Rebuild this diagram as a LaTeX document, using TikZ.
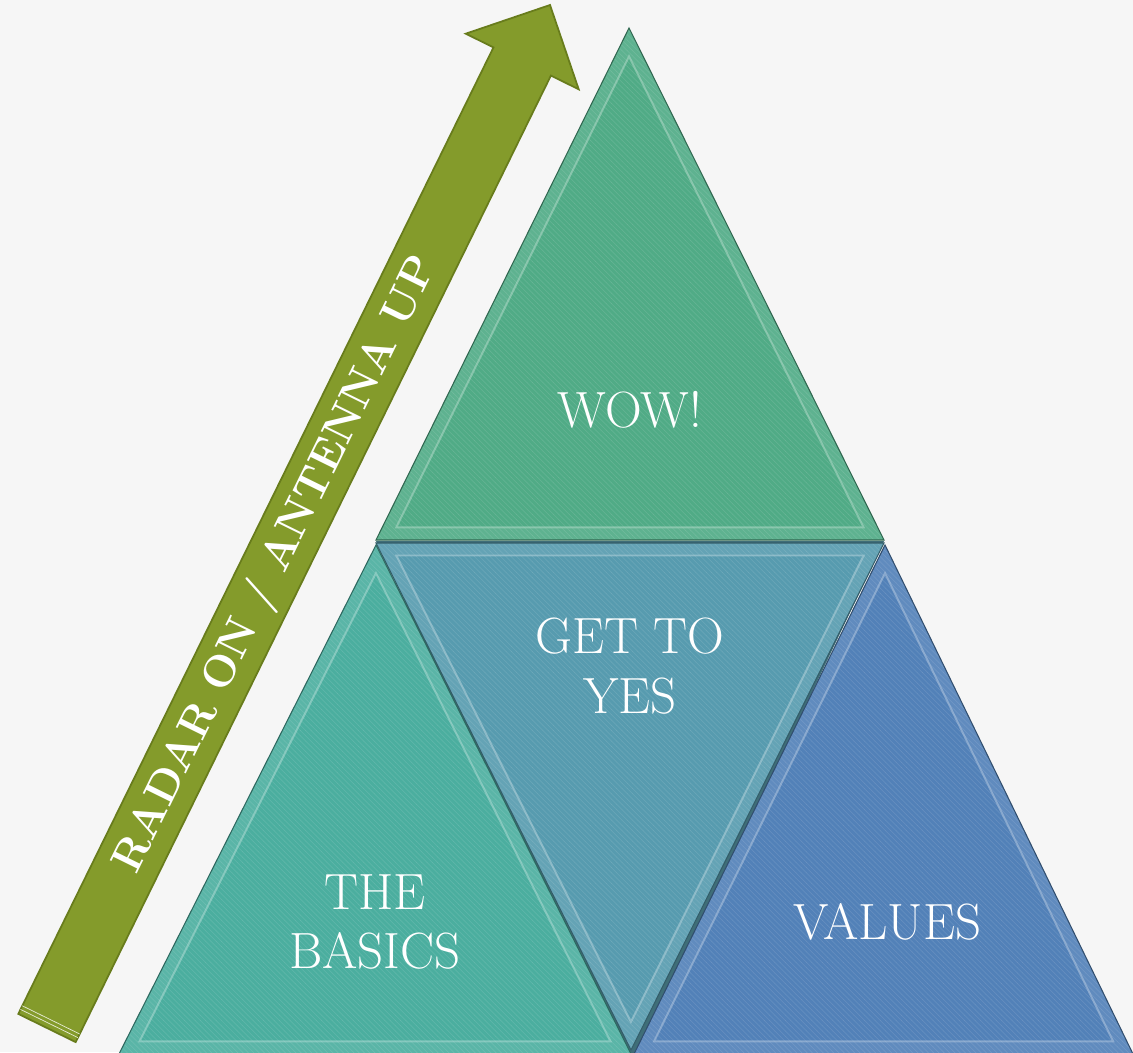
\documentclass[tikz,border=0pt]{standalone}
\usepackage{tikz}
\usetikzlibrary{calc,patterns}
\definecolor{paper}{HTML}{F6F6F6}
\definecolor{seam}{HTML}{3F6E78}
\definecolor{wowgreen}{HTML}{50AB86}
\definecolor{basicsteal}{HTML}{4BAE9F}
\definecolor{yesblue}{HTML}{579BAF}
\definecolor{valuesblue}{HTML}{5281B8}
\definecolor{arrowgreen}{HTML}{849B2B}
\definecolor{arrowedge}{HTML}{687C1C}

% one bevelled face: colour, three corners, incentre
\newcommand{\pyrface}[5]{%
  \fill[#1!92!white] #2 -- #3 -- #4 -- cycle;
  \fill[#1] ($#5!.92!#2$) -- ($#5!.92!#3$) -- ($#5!.92!#4$) -- cycle;
  \fill[pattern=north west lines, pattern color=white, opacity=.10] #2 -- #3 -- #4 -- cycle;
  \draw[#1!60!black, line width=.6pt] #2 -- #3 -- #4 -- cycle;
  \draw[#1!45!white, line width=1.1pt, opacity=.55] ($#5!.92!#2$) -- ($#5!.92!#3$) -- ($#5!.92!#4$) -- cycle;
}

\begin{document}
\begin{tikzpicture}[x=0.02cm, y=-0.02cm,
  facetext/.style={text=white, inner sep=0, align=center, font=\fontsize{29}{34}\selectfont},
  arrowtext/.style={text=white, inner sep=0, font=\fontsize{25}{30}\selectfont\bfseries}]
\fill[paper] (0,0) rectangle (1133,1052);
\useasboundingbox (0,0) rectangle (1133,1052);

\draw[fill=arrowgreen, draw=arrowedge, line width=1pt, line join=miter]
  (18.3,1013.9) -- (493.5,47.4) -- (465.7,33.7) -- (550,5) -- (578.7,89.3) -- (550.9,75.6) -- (75.7,1042.1) -- cycle;
\draw[white!80!arrowgreen, line width=.4pt] (20.5,1009.4) -- (77.9,1037.6) (22.3,1005.8) -- (79.7,1034);
\node[arrowtext, rotate=63.8] (radar) at (277,565) {RADAR ON / ANTENNA UP};

\fill[seam] (376,541) -- (884,541) -- (640,1054) -- (622,1054) -- cycle;
\pyrface{wowgreen}{(629,28)}{(376,540)}{(884,540)}{(629,383)}
\pyrface{yesblue}{(376,543)}{(884,543)}{(631,1050)}{(630,699)}
\pyrface{basicsteal}{(376,545)}{(119,1054)}{(631,1054)}{(375,897)}
\pyrface{valuesblue}{(885,545)}{(634,1054)}{(1133,1054)}{(885,897)}

\node[facetext] (wow) at (630,410) {WOW!};
\node[facetext] (yes) at (630,666) {GET TO\\YES};
\node[facetext] (basics) at (375,922) {THE\\BASICS};
\node[facetext] (values) at (887,922) {VALUES};
\end{tikzpicture}
\end{document}
